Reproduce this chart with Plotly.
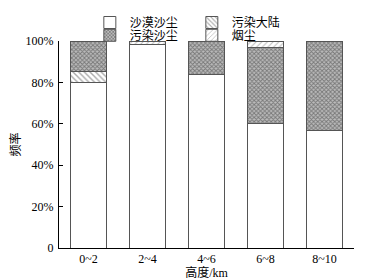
import plotly.graph_objects as go

categories = ['0~2', '2~4', '4~6', '6~8', '8~10']
desert_dust = [80, 98.5, 84, 60, 57]
polluted_continental = [5.5, 0, 0, 0, 0]
polluted_dust = [14.5, 0, 16, 37, 43]
smoke = [0, 1.5, 0, 3, 0]
y_ticks = [0, 20, 40, 60, 80, 100]
y_tick_labels = ['0', '20%', '40%', '60%', '80%', '100%']

FONT = "Liberation Serif, Noto Sans CJK SC"

fig = go.Figure()
line = dict(color='#555555', width=1)
fig.add_trace(go.Bar(x=categories, y=desert_dust, name='沙漠沙尘', legend='legend',
                     marker=dict(color='white', line=line)))
fig.add_trace(go.Bar(x=categories, y=polluted_continental, name='污染大陆', legend='legend',
                     marker=dict(color='white', line=line,
                                 pattern=dict(shape='\\', size=4, solidity=0.35,
                                              fgcolor='#555555', bgcolor='white',
                                              fillmode='overlay'))))
fig.add_trace(go.Bar(x=categories, y=polluted_dust, name='污染沙尘', legend='legend2',
                     marker=dict(color='white', line=line,
                                 pattern=dict(shape='x', size=3, solidity=0.5,
                                              fgcolor='#333333', bgcolor='#bbbbbb',
                                              fillmode='overlay'))))
fig.add_trace(go.Bar(x=categories, y=smoke, name='烟尘', legend='legend2',
                     marker=dict(color='white', line=line,
                                 pattern=dict(shape='/', size=4, solidity=0.25,
                                              fgcolor='#777777', bgcolor='white',
                                              fillmode='overlay'))))

legend_common = dict(orientation='h', xref='container', x=0.223, xanchor='left',
                     yref='container', yanchor='top',
                     entrywidth=57, traceorder='normal', tracegroupgap=0,
                     itemwidth=30, font=dict(size=12),
                     bgcolor='rgba(0,0,0,0)')

fig.update_layout(
    width=367, height=272,
    barmode='stack', bargap=0.39,
    margin=dict(l=51, r=21, t=33, b=32, autoexpand=False),
    plot_bgcolor='white', paper_bgcolor='white',
    font=dict(family=FONT, size=12, color='black'),
    showlegend=True,
    legend=dict(legend_common, y=1.0),
    legend2=dict(legend_common, y=0.953),
    xaxis=dict(showline=True, linecolor='black', linewidth=1, ticks='',
               showgrid=False, tickfont=dict(size=12), automargin=False,
               title=dict(text='高度/km', standoff=0, font=dict(size=12))),
    yaxis=dict(range=[0, 100], showline=True, linecolor='black', linewidth=1,
               ticks='inside', ticklen=4, tickcolor='black', automargin=False,
               tickvals=y_ticks, ticktext=y_tick_labels, showgrid=False,
               zeroline=False, ticklabelstandoff=2,
               title=dict(text='频率', standoff=2, font=dict(size=12))),
)

fig.write_html("out.html")
